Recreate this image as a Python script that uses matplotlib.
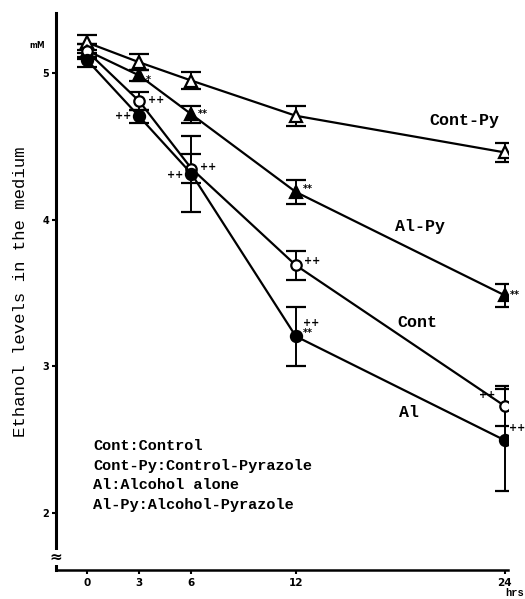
import matplotlib
matplotlib.use("Agg")
import matplotlib.pyplot as plt

# ---- data ----
hours = [0, 3, 6, 12, 24]

cont = [5.15, 4.81, 4.35, 3.69, 2.73]
cont_err = [0.05, 0.06, 0.10, 0.10, 0.135]

cont_py = [5.21, 5.075, 4.95, 4.71, 4.46]
cont_py_err = [0.05, 0.055, 0.057, 0.068, 0.065]

al = [5.09, 4.705, 4.315, 3.205, 2.496]
al_err = [0.045, 0.045, 0.26, 0.20, 0.35]

al_py = [5.155, 4.985, 4.72, 4.19, 3.485]
al_py_err = [0.045, 0.04, 0.057, 0.08, 0.08]

cont_sig = ["", "++", "++", "++", "++"]
al_sig = ["", "++", "++", "++\n**", "++"]
al_py_sig = ["", "*", "**", "**", "**"]

y_ticks = [2, 3, 4, 5]
x_ticks = [0, 3, 6, 12, 24]

series_labels = ["Cont-Py", "Al-Py", "Cont", "Al"]
legend_lines = ["Cont:Control", "Cont-Py:Control-Pyrazole",
                "Al:Alcohol alone", "Al-Py:Alcohol-Pyrazole"]

mono = ["Liberation Mono", "DejaVu Sans Mono"]

fig = plt.figure(figsize=(5.25, 5.99), dpi=100)
ax = fig.add_axes([0.1067, 0.0484, 0.861, 0.9296])

ax.set_xlim(-1.78, 24.2)
ax.set_ylim(1.61, 5.41)

common = dict(color="black", lw=1.6, capsize=7, elinewidth=1.4, capthick=1.6,
              markeredgewidth=1.6, markeredgecolor="black", zorder=3)

ax.errorbar(hours, cont_py, yerr=cont_py_err, marker="^", ms=8.5,
            markerfacecolor="white", **common)
ax.errorbar(hours, al_py, yerr=al_py_err, marker="^", ms=8.5,
            markerfacecolor="black", **common)
ax.errorbar(hours, cont, yerr=cont_err, marker="o", ms=7.5,
            markerfacecolor="white", **common)
ax.errorbar(hours, al, yerr=al_err, marker="o", ms=8,
            markerfacecolor="black", **common)

sigfont = dict(fontsize=7, fontweight="bold", family="DejaVu Sans")

def annot(xs, ys, labels, offsets):
    for x, y, s, (dx, dy, ha) in zip(xs, ys, labels, offsets):
        if s:
            ax.annotate(s, xy=(x, y), xytext=(dx, dy), textcoords="offset points",
                        ha=ha, va="center", linespacing=0.9, **sigfont)

annot(hours, cont, cont_sig,
      [(0, 0, "left"), (6, 1, "left"), (6, 1, "left"), (6, 3, "left"), (-7, 8, "right")])
annot(hours, al, al_sig,
      [(0, 0, "left"), (-6, 0, "right"), (-6, -1, "right"), (5, 6, "left"), (3, 9, "left")])
annot(hours, al_py, al_py_sig,
      [(0, 0, "left"), (5, -3, "left"), (5, 0, "left"), (5, 2, "left"), (4, 0, "left")])

# series labels
lab_pos = [(19.7, 4.68), (17.7, 3.955), (17.85, 3.30), (17.95, 2.687)]
for s, (x, y) in zip(series_labels, lab_pos):
    ax.text(x, y, s, family=mono, fontsize=12, fontweight="bold",
            ha="left", va="center")

# legend text block
for i, s in enumerate(legend_lines):
    ax.text(0.082, 0.222 - i * 0.035, s, transform=ax.transAxes, family=mono,
            fontsize=11, fontweight="bold", ha="left", va="center")

# axes styling
for side in ["top", "right"]:
    ax.spines[side].set_visible(False)
ax.spines["left"].set_linewidth(2.2)
ax.spines["bottom"].set_linewidth(1.8)

ax.set_yticks(y_ticks)
ax.set_yticklabels([str(v) for v in y_ticks], fontsize=7, fontweight="bold")
ax.set_xticks(x_ticks)
ax.set_xticklabels([str(v) for v in x_ticks], fontsize=7.5, fontweight="bold")
ax.tick_params(axis="y", direction="out", length=3, width=1.5, pad=2)
ax.tick_params(axis="x", direction="out", length=3, width=1.5, pad=3)

ax.set_ylabel("Ethanol levels in the medium", family=mono, fontsize=12.5,
              labelpad=10)

ax.text(-0.042, 0.942, "mM", transform=ax.transAxes, fontsize=5.5,
        fontweight="bold", ha="center", va="center")
fig.text(0.999, 0.002, "hrs", family=mono, fontsize=7.5,
         fontweight="bold", ha="right", va="bottom")
ax.text(0.0, 0.022, "\u2248", transform=ax.transAxes, fontsize=11,
        fontweight="bold", ha="center", va="center",
        bbox=dict(facecolor="white", edgecolor="none", pad=0))

fig.savefig("out.png", dpi=100)
